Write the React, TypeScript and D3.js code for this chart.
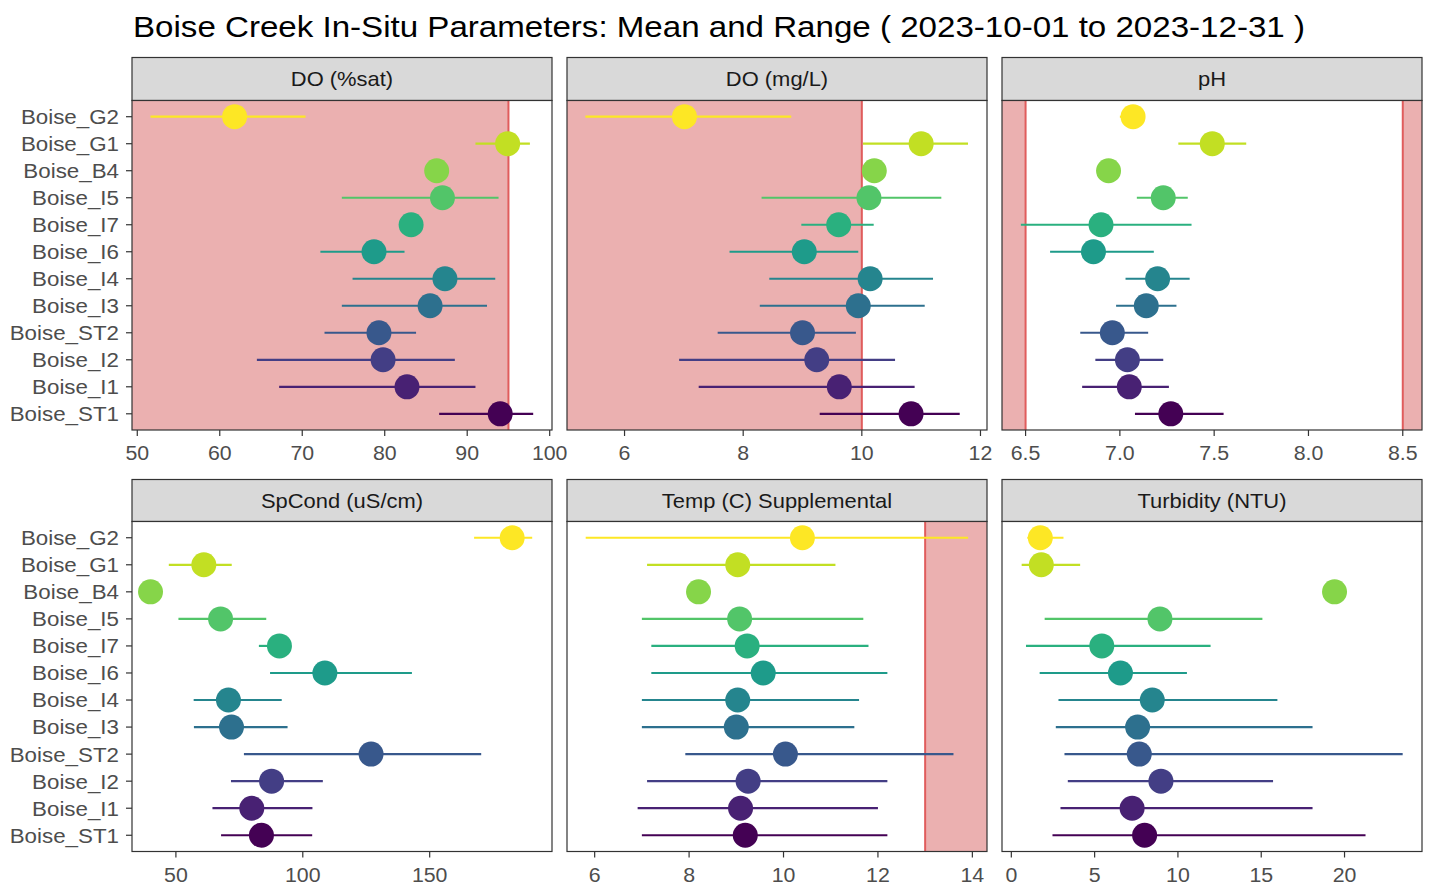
import React from "react";
import * as d3 from "d3";

const sites = ["Boise_G2","Boise_G1","Boise_B4","Boise_I5","Boise_I7","Boise_I6","Boise_I4","Boise_I3","Boise_ST2","Boise_I2","Boise_I1","Boise_ST1"];

const doSatMean = [61.8, 94.9, 86.3, 87.0, 83.2, 78.7, 87.3, 85.5, 79.3, 79.8, 82.7, 94.0];
const doSatMin  = [51.6, 91.0, 86.3, 74.8, 83.2, 72.2, 76.1, 74.8, 72.7, 64.5, 67.2, 86.6];
const doSatMax  = [70.4, 97.6, 86.3, 93.8, 83.2, 82.4, 93.4, 92.4, 83.8, 88.5, 91.0, 98.0];

const doMgMean = [7.01, 11.0, 10.21, 10.12, 9.61, 9.03, 10.14, 9.94, 9.0, 9.24, 9.62, 10.83];
const doMgMin  = [5.34, 10.02, 10.21, 8.31, 8.98, 7.77, 8.44, 8.28, 7.57, 6.92, 7.25, 9.29];
const doMgMax  = [8.81, 11.79, 10.21, 11.34, 10.2, 9.94, 11.2, 11.06, 9.9, 10.56, 10.89, 11.65];

const phMean = [7.07, 7.49, 6.94, 7.23, 6.90, 6.86, 7.20, 7.14, 6.96, 7.04, 7.05, 7.27];
const phMin  = [7.0, 7.31, 6.94, 7.09, 6.475, 6.63, 7.03, 6.98, 6.79, 6.87, 6.80, 7.08];
const phMax  = [7.1, 7.67, 6.94, 7.36, 7.38, 7.18, 7.37, 7.30, 7.15, 7.23, 7.26, 7.55];

const spCondMean = [182.5, 61.0, 40.0, 67.6, 90.8, 108.7, 70.7, 71.9, 126.9, 87.7, 79.9, 83.7];
const spCondMin  = [167.5, 47.2, 40.0, 51.0, 82.7, 87.1, 57.0, 57.1, 76.8, 71.7, 64.4, 67.8];
const spCondMax  = [190.4, 72.0, 40.0, 85.6, 93.0, 143.0, 91.7, 94.0, 170.3, 107.9, 103.8, 103.7];

const tempMean = [10.4, 9.03, 8.2, 9.07, 9.23, 9.57, 9.03, 9.0, 10.04, 9.25, 9.09, 9.19];
const tempMin  = [5.81, 7.11, 8.2, 7.0, 7.2, 7.2, 7.0, 7.0, 7.92, 7.11, 6.91, 7.0];
const tempMax  = [13.91, 11.1, 8.2, 11.69, 11.8, 12.2, 11.6, 11.5, 13.6, 12.2, 12.0, 12.2];

const turbMean = [1.74, 1.8, 19.4, 8.92, 5.43, 6.55, 8.46, 7.58, 7.68, 8.98, 7.25, 8.0];
const turbMin  = [0.96, 0.62, 19.4, 2.0, 0.88, 1.7, 2.83, 2.67, 3.19, 3.39, 2.95, 2.47];
const turbMax  = [3.13, 4.13, 19.4, 15.07, 11.96, 10.54, 15.97, 18.08, 23.49, 15.71, 18.08, 21.26];

const panelTitles = ["DO (%sat)", "DO (mg/L)", "pH", "SpCond (uS/cm)", "Temp (C) Supplemental", "Turbidity (NTU)"];
const doSatTicks = [50, 60, 70, 80, 90, 100];
const doMgTicks = [6, 8, 10, 12];
const phTicks = [6.5, 7.0, 7.5, 8.0, 8.5];
const spCondTicks = [50, 100, 150];
const tempTicks = [6, 8, 10, 12, 14];
const turbTicks = [0, 5, 10, 15, 20];

const FONT = "'Liberation Sans', Arial, sans-serif";

type Panel = {
  title: string; mean: number[]; min: number[]; max: number[];
  domain: [number, number]; ticks: number[]; fmt: (v: number) => string;
  shade: [number | null, number | null][];
};

const panels: Panel[] = [
  { title: panelTitles[0], mean: doSatMean, min: doSatMin, max: doSatMax, domain: [49.36, 100.28], ticks: doSatTicks, fmt: d3.format("d"), shade: [[null, 95]] },
  { title: panelTitles[1], mean: doMgMean, min: doMgMin, max: doMgMax, domain: [5.03, 12.11], ticks: doMgTicks, fmt: d3.format("d"), shade: [[null, 10]] },
  { title: panelTitles[2], mean: phMean, min: phMin, max: phMax, domain: [6.375, 8.602], ticks: phTicks, fmt: d3.format(".1f"), shade: [[null, 6.5], [8.5, null]] },
  { title: panelTitles[3], mean: spCondMean, min: spCondMin, max: spCondMax, domain: [32.7, 198.2], ticks: spCondTicks, fmt: d3.format("d"), shade: [] },
  { title: panelTitles[4], mean: tempMean, min: tempMin, max: tempMax, domain: [5.414, 14.31], ticks: tempTicks, fmt: d3.format("d"), shade: [[13, null]] },
  { title: panelTitles[5], mean: turbMean, min: turbMin, max: turbMax, domain: [-0.56, 24.65], ticks: turbTicks, fmt: d3.format("d"), shade: [] },
];

const colX = [132, 567, 1002];
const panelW = 420;
const rows = [
  { stripTop: 57.5, top: 100.5, bottom: 430 },
  { stripTop: 479.5, top: 521.5, bottom: 851.5 },
];

const color = (i: number) => d3.interpolateViridis((sites.length - 1 - i) / (sites.length - 1));

export default function App() {
  return (
    <svg width={1433} height={888} style={{ position: "absolute", left: 0, top: 0, background: "#fff" }} fontFamily={FONT}>
      <rect width={1433} height={888} fill="#fff" />
      <text x={133} y={37} fontSize={29} fill="#000" textLength={1172} lengthAdjust="spacingAndGlyphs">
        Boise Creek In-Situ Parameters: Mean and Range ( 2023-10-01 to 2023-12-31 )
      </text>
      {panels.map((p, pi) => {
        const r = rows[Math.floor(pi / 3)];
        const x0 = colX[pi % 3];
        const x = d3.scaleLinear().domain(p.domain).range([x0, x0 + panelW]);
        const y = d3.scalePoint<string>().domain(sites).range([r.top, r.bottom]).padding(0.6);
        return (
          <g key={pi}>
            <rect x={x0} y={r.stripTop} width={panelW} height={r.top - r.stripTop} fill="#d9d9d9" stroke="#333" strokeWidth={1.2} />
            <g transform={`translate(${x0 + panelW / 2},${(r.stripTop + r.top) / 2}) scale(1.07,1)`}>
              <text x={0} y={0} dy="0.36em" textAnchor="middle" fontSize={20.5} fill="#1a1a1a">{p.title}</text>
            </g>
            <rect x={x0} y={r.top} width={panelW} height={r.bottom - r.top} fill="#fff" />
            {p.shade.map(([a, b], si) => {
              const xa = a === null ? x0 : x(a);
              const xb = b === null ? x0 + panelW : x(b);
              const lineX = a === null ? xb : xa;
              return (
                <g key={si}>
                  <rect x={xa} y={r.top} width={xb - xa} height={r.bottom - r.top} fill="#ebb0b0" />
                  <line x1={lineX} x2={lineX} y1={r.top} y2={r.bottom} stroke="#e05c5c" strokeWidth={2} />
                </g>
              );
            })}
            {sites.map((s, i) => (
              <g key={s}>
                <line x1={x(p.min[i])} x2={x(p.max[i])} y1={y(s)!} y2={y(s)!} stroke={color(i)} strokeWidth={2.2} />
                <circle cx={x(p.mean[i])} cy={y(s)!} r={12.5} fill={color(i)} />
              </g>
            ))}
            <rect x={x0} y={r.top} width={panelW} height={r.bottom - r.top} fill="none" stroke="#333" strokeWidth={1.2} />
            {p.ticks.map((t) => (
              <g key={t}>
                <line x1={x(t)} x2={x(t)} y1={r.bottom} y2={r.bottom + 6} stroke="#333" strokeWidth={1.2} />
                <g transform={`translate(${x(t)},${r.bottom + 30}) scale(1.04,1)`}>
                  <text x={0} y={0} textAnchor="middle" fontSize={20.5} fill="#4d4d4d">{p.fmt(t)}</text>
                </g>
              </g>
            ))}
            {pi % 3 === 0 && sites.map((s) => (
              <g key={s}>
                <line x1={x0 - 6} x2={x0} y1={y(s)!} y2={y(s)!} stroke="#333" strokeWidth={1.2} />
                <g transform={`translate(${x0 - 13},${y(s)!}) scale(1.09,1)`}>
                  <text x={0} y={0} dy="0.36em" textAnchor="end" fontSize={20.5} fill="#4d4d4d">{s}</text>
                </g>
              </g>
            ))}
          </g>
        );
      })}
    </svg>
  );
}
